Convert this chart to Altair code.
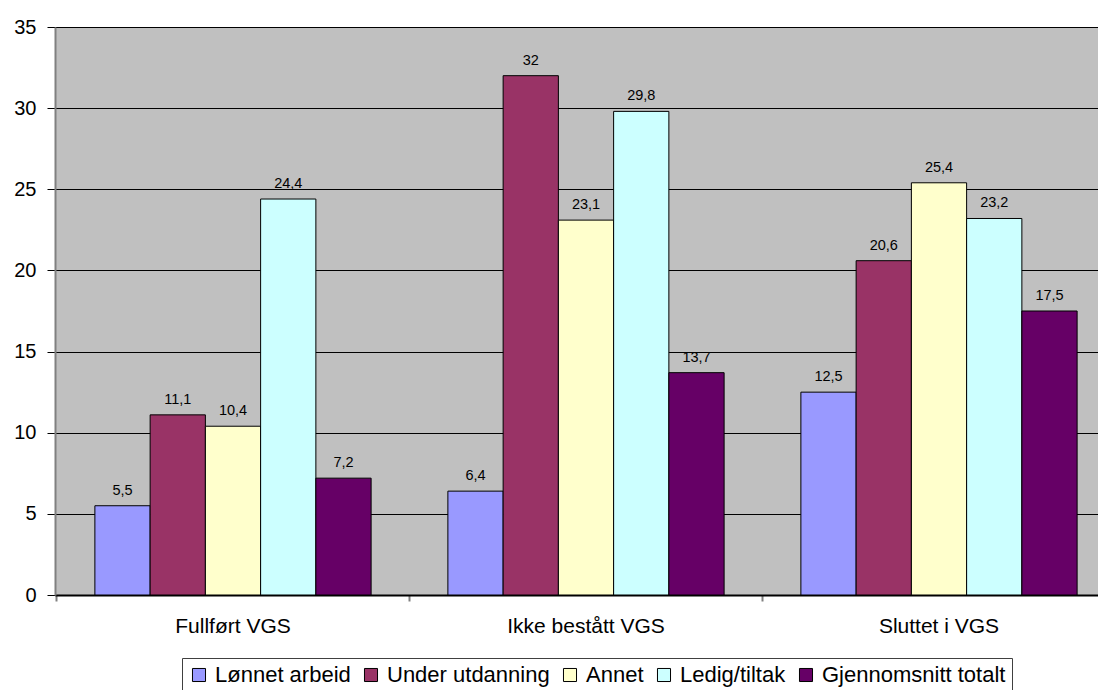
import altair as alt
import pandas as pd

categories = ["Fullført VGS", "Ikke bestått VGS", "Sluttet i VGS"]
series = ["Lønnet arbeid", "Under utdanning", "Annet", "Ledig/tiltak", "Gjennomsnitt totalt"]
values = {
    "Lønnet arbeid": [5.5, 6.4, 12.5],
    "Under utdanning": [11.1, 32, 20.6],
    "Annet": [10.4, 23.1, 25.4],
    "Ledig/tiltak": [24.4, 29.8, 23.2],
    "Gjennomsnitt totalt": [7.2, 13.7, 17.5],
}
colors = ["#9999FF", "#993366", "#FFFFCC", "#CCFFFF", "#660066"]

rows = []
for s in series:
    for c, v in zip(categories, values[s]):
        rows.append({"kategori": c, "serie": s, "verdi": v})
df = pd.DataFrame(rows)

FONT = "Liberation Sans"

x = alt.X("kategori:N", sort=categories, title=None,
          scale=alt.Scale(paddingInner=0.2175, paddingOuter=0.113, range=[0, 1062]),
          axis=alt.Axis(labelAngle=0, labelFontSize=21, labelFont=FONT, labelColor="black",
                        labelPadding=14, tickColor="#808080", tickSize=6, tickWidth=2,
                        bandPosition=-0.139, domainColor="black", domainWidth=2, grid=False))
xo = alt.XOffset("serie:N", sort=series)
y = alt.Y("verdi:Q", title=None,
          scale=alt.Scale(domain=[0, 35], nice=False),
          axis=alt.Axis(values=[0, 5, 10, 15, 20, 25, 30, 35], labelFontSize=20, labelFont=FONT,
                        labelColor="black", tickColor="black", tickSize=8, labelPadding=11,
                        domainColor="#808080", domainWidth=2, gridColor="black", gridWidth=1,
                        grid=True))

bars = alt.Chart(df).mark_bar(stroke="black", strokeWidth=1).encode(
    x=x, xOffset=xo, y=y,
    color=alt.Color("serie:N", sort=series, title=None,
                    scale=alt.Scale(domain=series, range=colors),
                    legend=alt.Legend(orient="none", direction="horizontal", legendX=127, legendY=631,
                                      labelFontSize=22, labelFont=FONT, labelColor="black",
                                      labelLimit=500,
                                      symbolType="square", symbolSize=170, symbolStrokeColor="black",
                                      symbolStrokeWidth=1, columnPadding=9, labelOffset=5,
                                      strokeColor="#404040", padding=6, fillColor="white"))
)

labels = alt.Chart(df).transform_calculate(
    txt="replace(toString(datum.verdi), '.', ',')"
).mark_text(baseline="bottom", dy=-8, fontSize=14.5, font=FONT, color="black").encode(
    x=x, xOffset=xo, y=y, text="txt:N"
)

chart = (bars + labels).properties(
    width=1043, height=568,
    autosize=alt.AutoSizeParams(type="none"),
    padding={"left": 47, "top": 19, "right": 0, "bottom": 95},
).configure_view(fill="#C0C0C0", stroke=None)

chart.save("out.html", embed_options={"renderer": "svg", "actions": False})
